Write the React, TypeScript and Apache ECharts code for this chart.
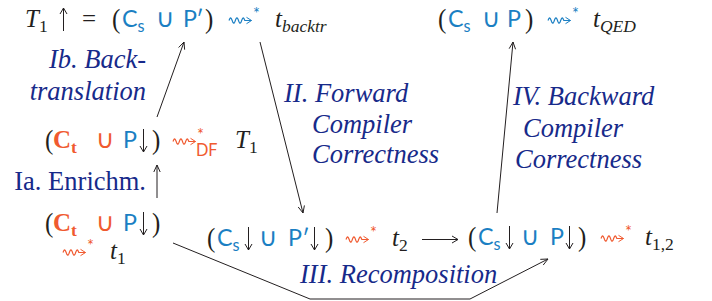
import { useEffect, useRef } from "react";
import * as echarts from "echarts";

type Role = "n" | "sub" | "sup" | "subx";
type Tok = [string, string, string, Role];

// ---- formula contents (text, font key, colour key, role) ----
// "sq" = squiggly arrow ⇝, "ar" = long arrow ⟶, "va" = vertical arrow ↑ / ↓ (drawn as strokes)
const TOP_LEFT: Tok[] = [
  ["T", "mi", "k", "n"], ["1", "rm", "k", "sub"], ["↑", "va", "k", "n"], ["=", "rm", "k", "n"],
  ["(", "rm", "k", "n"], ["C", "sf", "b", "n"], ["s", "sf", "b", "sub"], ["∪", "cu", "b", "n"],
  ["P", "sf", "b", "n"], ["′", "sf", "b", "n"], [")", "rm", "k", "n"],
  ["⇝", "sq", "b", "n"], ["*", "sf", "b", "sup"], ["t", "mi", "k", "n"], ["backtr", "mi", "k", "sub"],
];
const TOP_RIGHT: Tok[] = [
  ["(", "rm", "k", "n"], ["C", "sf", "b", "n"], ["s", "sf", "b", "sub"], ["∪", "cu", "b", "n"],
  ["P", "sf", "b", "n"], [")", "rm", "k", "n"], ["⇝", "sq", "b", "n"], ["*", "sf", "b", "sup"],
  ["t", "mi", "k", "n"], ["QED", "mi", "k", "sub"],
];
const MID_LEFT: Tok[] = [
  ["(", "rm", "k", "n"], ["C", "bf", "o", "n"], ["t", "bf", "o", "sub"], ["∪", "cu", "o", "n"],
  ["P", "sf", "b", "n"], ["↓", "va", "k", "n"], [")", "rm", "k", "n"],
  ["⇝", "sq", "o", "n"], ["*", "sf", "o", "sup"], ["DF", "sf", "o", "subx"],
  ["T", "mi", "k", "n"], ["1", "rm", "k", "sub"],
];
const LOW_LEFT: Tok[] = [
  ["(", "rm", "k", "n"], ["C", "bf", "o", "n"], ["t", "bf", "o", "sub"], ["∪", "cu", "o", "n"],
  ["P", "sf", "b", "n"], ["↓", "va", "k", "n"], [")", "rm", "k", "n"],
];
const LOW_LEFT_2: Tok[] = [
  ["⇝", "sq", "o", "n"], ["*", "sf", "o", "sup"], ["t", "mi", "k", "n"], ["1", "rm", "k", "sub"],
];
const BOTTOM_MID: Tok[] = [
  ["(", "rm", "k", "n"], ["C", "sf", "b", "n"], ["s", "sf", "b", "sub"], ["↓", "va", "k", "n"],
  ["∪", "cu", "b", "n"], ["P", "sf", "b", "n"], ["′", "sf", "b", "n"], ["↓", "va", "k", "n"],
  [")", "rm", "k", "n"], ["⇝", "sq", "o", "n"], ["*", "sf", "o", "sup"],
  ["t", "mi", "k", "n"], ["2", "rm", "k", "sub"], ["⟶", "ar", "k", "n"],
];
const BOTTOM_RIGHT: Tok[] = [
  ["(", "rm", "k", "n"], ["C", "sf", "b", "n"], ["s", "sf", "b", "sub"], ["↓", "va", "k", "n"],
  ["∪", "cu", "b", "n"], ["P", "sf", "b", "n"], ["↓", "va", "k", "n"], [")", "rm", "k", "n"],
  ["⇝", "sq", "o", "n"], ["*", "sf", "o", "sup"], ["t", "mi", "k", "n"], ["1,2", "rm", "k", "sub"],
];

// ---- step labels ----
const LABEL_TEXTS: string[][] = [
  ["Ib. Back-", "translation"],
  ["Ia. Enrichm."],
  ["II. Forward", "Compiler", "Correctness"],
  ["IV. Backward", "Compiler", "Correctness"],
  ["III. Recomposition"],
];

// ---- layout (positions only) ----
const FORMULA_LAYOUT = [
  { toks: TOP_LEFT, base: 27, xs: [25, 57, 82, 112, 122, 156, 183, 196, 205, 228, 275] },
  { toks: TOP_RIGHT, base: 27, xs: [438, 448, 482, 507, 525, 547, 593] },
  { toks: MID_LEFT, base: 148, xs: [45, 53, 96, 123, 137, 152, 172, 235] },
  { toks: LOW_LEFT, base: 231, xs: [45, 53, 96, 123, 137, 152] },
  { toks: LOW_LEFT_2, base: 259, xs: [62, 110] },
  { toks: BOTTOM_MID, base: 246, xs: [207, 217, 242, 259, 288, 302, 308, 325, 345, 392, 422] },
  { toks: BOTTOM_RIGHT, base: 245, xs: [468, 478, 503, 521, 550, 563, 578, 600, 645] },
];
const LABEL_LAYOUT = [
  { italic: true, align: "right", xs: [146, 146], bases: [68, 100] },
  { italic: false, align: "right", xs: [146], bases: [190] },
  { italic: true, align: "left", xs: [284, 312, 312], bases: [102, 133, 163] },
  { italic: true, align: "left", xs: [513, 523, 515], bases: [105, 137, 168] },
  { italic: true, align: "left", xs: [300], bases: [283] },
];
const EDGES: number[][][] = [
  [[157, 117], [184, 42]],
  [[157, 198], [157, 165]],
  [[260, 42], [303, 213]],
  [[497, 213], [513, 42]],
  [[173, 243], [310, 299], [470, 299], [548, 259]],
];

const COLORS: Record<string, string> = { k: "#231f20", b: "#1b7fc3", o: "#f05a30" };
const NAVY = "#172a8a";
const INK = "#231f20";
const SERIF = "Liberation Serif";
const FONTS: Record<string, { family: string; style: string; weight: string; scale: number }> = {
  mi: { family: SERIF, style: "italic", weight: "normal", scale: 1 },
  rm: { family: SERIF, style: "normal", weight: "normal", scale: 1 },
  cu: { family: "DejaVu Sans", style: "normal", weight: "normal", scale: 1.02 },
  bf: { family: SERIF, style: "normal", weight: "bold", scale: 1 },
  sf: { family: "Lato", style: "normal", weight: "normal", scale: 0.93 },
};
const MAIN = 25;
const LABEL_SIZE = 26.5;
const ARROW_W: Record<string, number> = { sq: 24, ar: 36, va: 12 };

let ctx: CanvasRenderingContext2D | null = null;
function measure(text: string, f: { family: string; style: string; weight: string }, size: number) {
  if (!ctx) ctx = document.createElement("canvas").getContext("2d");
  ctx!.font = `${f.style} ${f.weight} ${size}px "${f.family}"`;
  const m = ctx!.measureText(text);
  return { w: m.width, asc: m.fontBoundingBoxAscent, desc: m.fontBoundingBoxDescent };
}

function textEl(text: string, x: number, y: number, f: any, size: number, fill: string, align = "left", extra: any = {}) {
  return {
    type: "text",
    x,
    y,
    silent: true,
    ...extra,
    style: {
      text,
      fill,
      fontFamily: f.family,
      fontSize: size,
      fontStyle: f.style,
      fontWeight: f.weight,
      align,
      verticalAlign: "middle",
      textAlign: align,
      textVerticalAlign: "middle",
    },
  };
}

function line(x1: number, y1: number, x2: number, y2: number, color: string) {
  return { type: "line", silent: true, shape: { x1, y1, x2, y2 }, style: { stroke: color, lineWidth: 1 } };
}

function arrowHead(p: number[], ux: number, uy: number, color: string, L = 6, H = 3) {
  const nx = -uy, ny = ux;
  const bx = p[0] - ux * L, by = p[1] - uy * L;
  return {
    type: "polyline",
    silent: true,
    shape: { points: [[bx + nx * H, by + ny * H], p, [bx - nx * H, by - ny * H]] },
    style: { stroke: color, lineWidth: 1, fill: "none" },
  };
}

function squiggle(x0: number, w: number, axis: number, color: string) {
  const pts: number[][] = [];
  const waveW = w * 0.66;
  const periods = 2.5;
  const n = 48;
  for (let i = 0; i <= n; i++) {
    const t = i / n;
    pts.push([x0 + 1 + t * waveW, axis - 2.6 * Math.sin(t * periods * 2 * Math.PI)]);
  }
  pts.push([x0 + w - 0.5, axis]);
  return [
    { type: "polyline", silent: true, shape: { points: pts }, style: { stroke: color, lineWidth: 1.2, fill: "none" } },
    arrowHead([x0 + w - 0.5, axis], 1, 0, color, 5, 3.2),
  ];
}

function buildFormula(toks: Tok[], base: number, xs: number[]) {
  const els: any[] = [];
  let mi = 0;
  let lastMainEnd = 0;
  for (const [text, fk, ck, role] of toks) {
    const color = COLORS[ck];
    if (fk === "sq" || fk === "ar" || fk === "va") {
      const x = xs[mi++];
      const w = ARROW_W[fk];
      const axis = base - 6.5;
      if (fk === "sq") els.push(...squiggle(x, w, axis, color));
      else if (fk === "ar") {
        els.push(line(x, axis, x + w, axis, color));
        els.push(arrowHead([x + w, axis], 1, 0, color, 6, 3.5));
      } else {
        const cx = x + 6.5;
        const top = base - 19;
        const bot = base + 4;
        els.push(line(cx, top, cx, bot, color));
        if (text === "↑") els.push(arrowHead([cx, top], 0, -1, color, 6, 3.5));
        else els.push(arrowHead([cx, bot], 0, 1, color, 6, 3.5));
      }
      lastMainEnd = x + w;
      continue;
    }
    const f = FONTS[fk];
    let size = MAIN * f.scale;
    let x: number;
    let b = base;
    if (role === "n") {
      x = xs[mi++];
    } else {
      size *= 0.7;
      x = lastMainEnd + (role === "sup" ? 1 : 0);
      b = base + (role === "sub" ? 5 : role === "subx" ? 8 : -7);
    }
    const m = measure(text, f, size);
    if (role === "n") lastMainEnd = x + m.w;
    const y = b - (m.asc - m.desc) / 2;
    const isParen = text === "(" || text === ")";
    els.push(
      textEl(text, x, y, f, size, color, "left", isParen ? { scaleY: 1.12, originY: b - 0.25 * size - y } : {})
    );
  }
  return els;
}

function buildLabels() {
  const els: any[] = [];
  LABEL_TEXTS.forEach((lines, i) => {
    const L = LABEL_LAYOUT[i];
    const f = FONTS[L.italic ? "mi" : "rm"];
    lines.forEach((text, j) => {
      const m = measure(text, f, LABEL_SIZE);
      els.push(textEl(text, L.xs[j], L.bases[j] - (m.asc - m.desc) / 2, f, LABEL_SIZE, NAVY, L.align));
    });
  });
  return els;
}

function buildEdges() {
  const els: any[] = [];
  for (const pts of EDGES) {
    els.push({ type: "polyline", silent: true, shape: { points: pts }, style: { stroke: INK, lineWidth: 1, fill: "none" } });
    const p = pts[pts.length - 1];
    const q = pts[pts.length - 2];
    const dx = p[0] - q[0];
    const dy = p[1] - q[1];
    const len = Math.hypot(dx, dy);
    els.push(arrowHead(p, dx / len, dy / len, INK, 7, 3.2));
  }
  return els;
}

export default function App() {
  const ref = useRef<HTMLDivElement>(null);
  useEffect(() => {
    if (!ref.current) return;
    const chart = echarts.init(ref.current, null, { renderer: "svg" });
    const elements = [
      ...buildEdges(),
      ...FORMULA_LAYOUT.flatMap((f) => buildFormula(f.toks, f.base, f.xs)),
      ...buildLabels(),
    ];
    chart.setOption({ animation: false, backgroundColor: "#ffffff", graphic: { elements } });
    return () => chart.dispose();
  }, []);
  return (
    <div
      ref={ref}
      style={{ position: "fixed", left: 0, top: 0, width: 712, height: 301, background: "#fff" }}
    />
  );
}
